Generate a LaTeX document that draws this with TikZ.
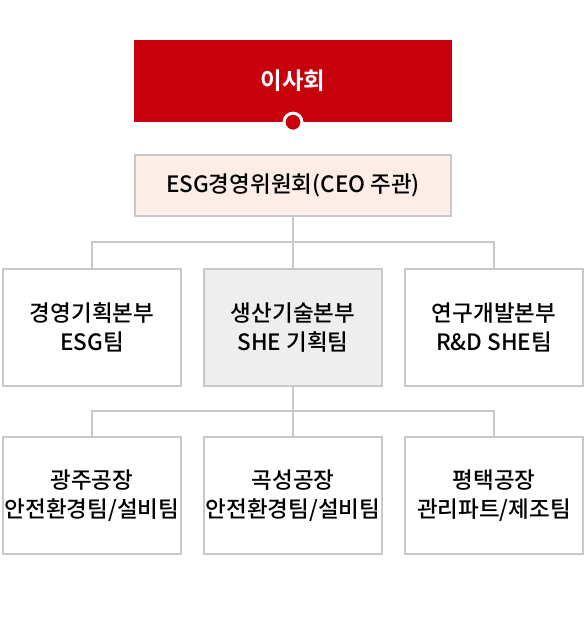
\documentclass[tikz,border=0pt]{standalone}
\usepackage{fontspec}
\setmainfont{Noto Sans CJK KR}[BoldFont={Noto Sans CJK KR Bold}]
\newfontfamily\boxfont{Noto Sans CJK KR Medium}
\usetikzlibrary{positioning}
\definecolor{boardred}{HTML}{C8000B}
\definecolor{linegray}{HTML}{C8C8C8}
\definecolor{esgpink}{HTML}{FCEDE6}
\definecolor{prodgray}{HTML}{EEEEEE}

\begin{document}
\begin{tikzpicture}[x=1pt, y=1pt, node distance=21pt,
    block/.style={
            draw=linegray,
            line width=2pt,
            rectangle,
            fill=white,
            minimum width=178pt,
            minimum height=117pt,
            inner sep=0pt,
            align=center,
            font=\boxfont\fontsize{22.5}{29}\selectfont
        },
        board/.style={
            rectangle,
            fill=boardred,
            minimum width=318pt,
            minimum height=82pt,
            text=white,
            font=\fontsize{23.5}{26}\bfseries
        },
        committee/.style={
            block,
            fill=esgpink,
            minimum width=316pt,
            minimum height=61pt
        },
        joint/.style={
            draw=white,
            fill=boardred,
            line width=3pt,
            circle,
            inner sep=0pt,
            minimum size=18pt
        },
        link/.style={draw=linegray, line width=2pt}
]
    \useasboundingbox (0,0) rectangle (586,640);

    \node [board] (board) at (293,559) {이사회};
    \node [committee, below=32pt of board] (esg) {ESG경영위원회(CEO 주관)};

    % divisions
    \node [block, fill=prodgray, below=51pt of esg] (prod) {생산기술본부\\SHE 기획팀};
    \node [block, left=of prod] (mgmt) {경영기획본부\\ESG팀};
    \node [block, right=of prod] (rnd) {연구개발본부\\R\&D SHE팀};

    % plants
    \node [block, below=49pt of prod] (gokseong) {곡성공장\\안전환경팀/설비팀};
    \node [block, left=of gokseong] (gwangju) {광주공장\\안전환경팀/설비팀};
    \node [block, right=of gokseong] (pyeongtaek) {평택공장\\관리파트/제조팀};

    \coordinate [above=26pt of prod.north] (split1);
    \coordinate [below=24pt of prod.south] (split2);

    \draw [link] (esg) -- (prod);
    \draw [link] (mgmt) |- (split1) -| (rnd);
    \draw [link] (prod) -- (gokseong);
    \draw [link] (gwangju) |- (split2) -| (pyeongtaek);

    \node [joint] (dot) at (board.south) {};
\end{tikzpicture}
\end{document}
